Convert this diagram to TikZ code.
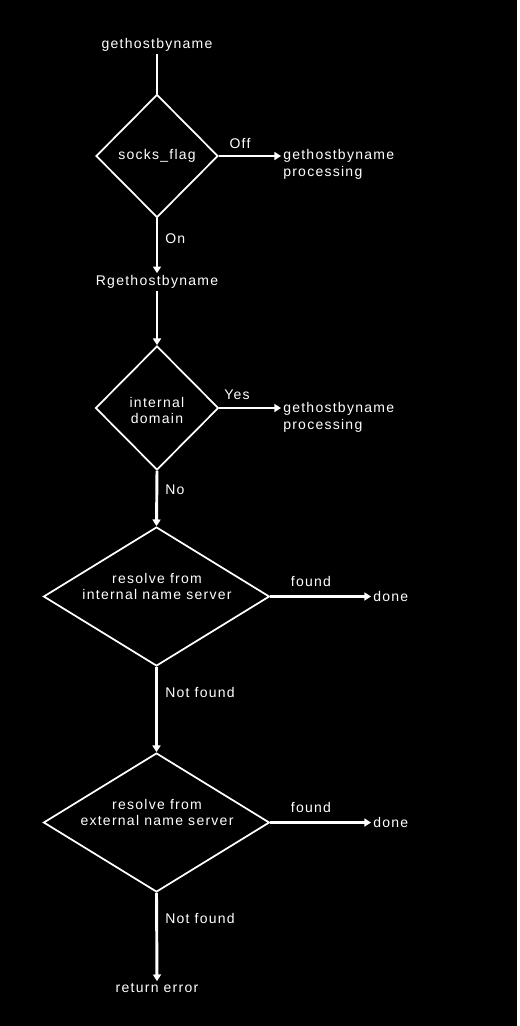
\documentclass[tikz,border=0pt]{standalone}
\usepackage{fontspec}
\setmainfont{Liberation Sans}[LetterSpace=9]
\usetikzlibrary{shapes.geometric,arrows.meta}
\begin{document}
\begin{tikzpicture}[x=0.75pt,y=-0.75pt,
 every node/.style={text=white,font=\fontsize{10.5}{12.75}\selectfont,inner sep=1.5pt},
 dec/.style={diamond,draw=white,line width=1.3pt,inner sep=0pt,align=center},
 conn/.style={white,line width=2.2pt},
 arr/.style={conn,-{Triangle[length=5pt,width=6pt]}},
 lbl/.style={anchor=west},
 proc/.style={anchor=west,align=left},
 dtext/.style={align=center,font=\fontsize{10.5}{12}\selectfont}]
\useasboundingbox (0,0) rectangle (519,1026);
\fill[black] (0,0) rectangle (517,1026);

\node (start) at (157,45) {gethostbyname};
\node[dec,minimum width=91.5pt,minimum height=92.25pt] (d1) at (157,156) {socks\_flag};
\node[proc] (p1) at (281,164.5) {gethostbyname\\processing};
\node (rget) at (157,282) {Rgethostbyname};
\node[dec,minimum width=92.25pt,minimum height=93pt] (d2) at (157,408) {};
\node[dtext] (t2) at (157,410) {internal\\domain};
\node[proc] (p2) at (281,417.5) {gethostbyname\\processing};
\node[dec,minimum width=169.5pt,minimum height=104.25pt] (d3) at (156.5,596.5) {};
\node[dtext] (t3) at (157,586) {resolve from\\internal name server};
\node[lbl] (done1) at (371,596) {done};
\node[dec,minimum width=169.5pt,minimum height=104.25pt] (d4) at (156.5,822.5) {};
\node[dtext] (t4) at (157,812) {resolve from\\external name server};
\node[lbl] (done2) at (371,822) {done};
\node (err) at (157,988) {return error};

\node (loff) at (240,143) {Off};
\node[lbl] (lon) at (163,239) {On};
\node (lyes) at (237,395) {Yes};
\node[lbl] (lno) at (163,490) {No};
\node (lf1) at (311,581) {found};
\node[lbl] (lnf1) at (163,692) {Not found};
\node (lf2) at (311,807) {found};
\node[lbl] (lnf2) at (163,918) {Not found};

\draw[conn] (start.south) -- (d1.north);
\draw[arr] (d1.east) -- (d1.east -| p1.west);
\draw[arr] (d1.south) -- (rget.north);
\draw[arr] (rget.south) -- (d2.north);
\draw[arr] (d2.east) -- (d2.east -| p2.west);
\draw[arr] (d2.south) -- (d3.north);
\draw[arr] (d3.east) -- (d3.east -| done1.west);
\draw[arr] (d3.south) -- (d4.north);
\draw[arr] (d4.east) -- (d4.east -| done2.west);
\draw[arr] (d4.south) -- (err.north);
\end{tikzpicture}
\end{document}
